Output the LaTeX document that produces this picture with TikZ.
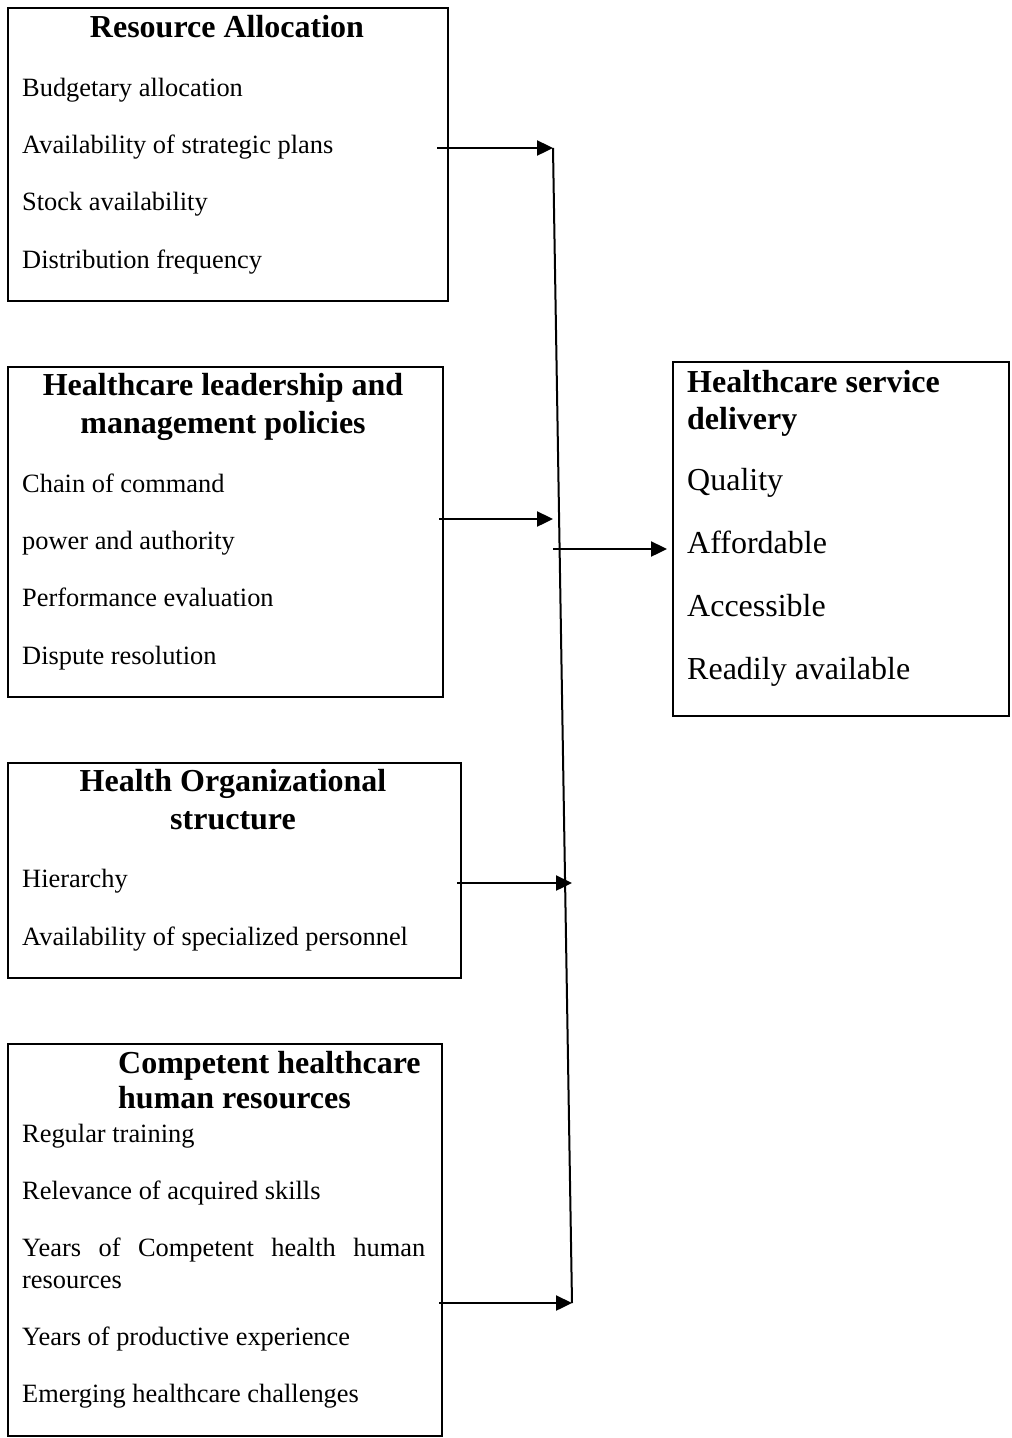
\documentclass[tikz,border=0pt]{standalone}
\usepackage{fontspec}
\setmainfont{Liberation Serif}
\usetikzlibrary{arrows.meta}
\begin{document}
\begin{tikzpicture}[x=1pt,y=-1pt,
  box/.style={draw,line width=2pt,inner sep=0pt,anchor=north west},
  item/.style={inner sep=0pt,anchor=base west,font=\fontsize{26.4}{30}\selectfont},
  bigitem/.style={inner sep=0pt,anchor=base west,font=\fontsize{32}{36}\selectfont},
  ttl/.style={inner sep=0pt,anchor=base,font=\fontsize{32}{36}\selectfont\bfseries},
  ttlw/.style={inner sep=0pt,anchor=base west,font=\fontsize{32}{36}\selectfont\bfseries},
  arr/.style={line width=2.4pt,-{Triangle[length=16pt,width=15pt]}},
  conn/.style={line width=2pt}]
\useasboundingbox (0,0) rectangle (1012,1438);
% boxes
\node[box,minimum width=440pt,minimum height=293pt] (b1) at (7,7) {};
\node[box,minimum width=435pt,minimum height=330pt] (b2) at (7,366) {};
\node[box,minimum width=453pt,minimum height=215pt] (b3) at (7,762) {};
\node[box,minimum width=434pt,minimum height=392pt] (b4) at (7,1043) {};
\node[box,minimum width=336pt,minimum height=354pt] (b5) at (672,361) {};
% box 1
\node[ttl] (t1) at (227,37) {Resource Allocation};
\node[item] (i11) at (22,96) {Budgetary allocation};
\node[item] (i12) at (22,153) {Availability of strategic plans};
\node[item] (i13) at (22,210) {Stock availability};
\node[item] (i14) at (22,268) {Distribution frequency};
% box 2
\node[ttl] (t2a) at (223,395) {Healthcare leadership and};
\node[ttl] (t2b) at (223,433) {management policies};
\node[item] (i21) at (22,492) {Chain of command};
\node[item] (i22) at (22,549) {power and authority};
\node[item] (i23) at (22,606) {Performance evaluation};
\node[item] (i24) at (22,664) {Dispute resolution};
% box 3
\node[ttl] (t3a) at (233,791) {Health Organizational};
\node[ttl] (t3b) at (233,829) {structure};
\node[item] (i31) at (22,887) {Hierarchy};
\node[item] (i32) at (22,945) {Availability of specialized personnel};
% box 4
\node[ttlw] (t4a) at (118,1073) {Competent healthcare};
\node[ttlw] (t4b) at (118,1108) {human resources};
\node[item] (i41) at (22,1142) {Regular training};
\node[item] (i42) at (22,1199) {Relevance of acquired skills};
\node[item] (i43) at (22,1256) {\hbox to 403pt{Years\hfill of\hfill Competent\hfill health\hfill human}};
\node[item] (i44) at (22,1288) {resources};
\node[item] (i45) at (22,1345) {Years of productive experience};
\node[item] (i46) at (22,1402) {Emerging healthcare challenges};
% box 5
\node[ttlw] (t5a) at (687,392) {Healthcare service};
\node[ttlw] (t5b) at (687,429) {delivery};
\node[bigitem] (i51) at (687,490) {Quality};
\node[bigitem] (i52) at (687,553) {Affordable};
\node[bigitem] (i53) at (687,616) {Accessible};
\node[bigitem] (i54) at (687,679) {Readily available};
% connectors
\coordinate (ltop) at (553,148);
\coordinate (lbot) at (572,1303);
\draw[conn] (ltop) -- (lbot);
\coordinate (a1s) at (437,148);
\coordinate (a2s) at (439,519);
\coordinate (a2e) at (553,519);
\coordinate (a3s) at (553,549);
\coordinate (a3e) at (667,549);
\coordinate (a4s) at (457,883);
\coordinate (a4e) at (572,883);
\coordinate (a5s) at (439,1303);
\draw[arr] (a1s) -- (ltop);
\draw[arr] (a2s) -- (a2e);
\draw[arr] (a3s) -- (a3e);
\draw[arr] (a4s) -- (a4e);
\draw[arr] (a5s) -- (lbot);
\end{tikzpicture}
\end{document}
